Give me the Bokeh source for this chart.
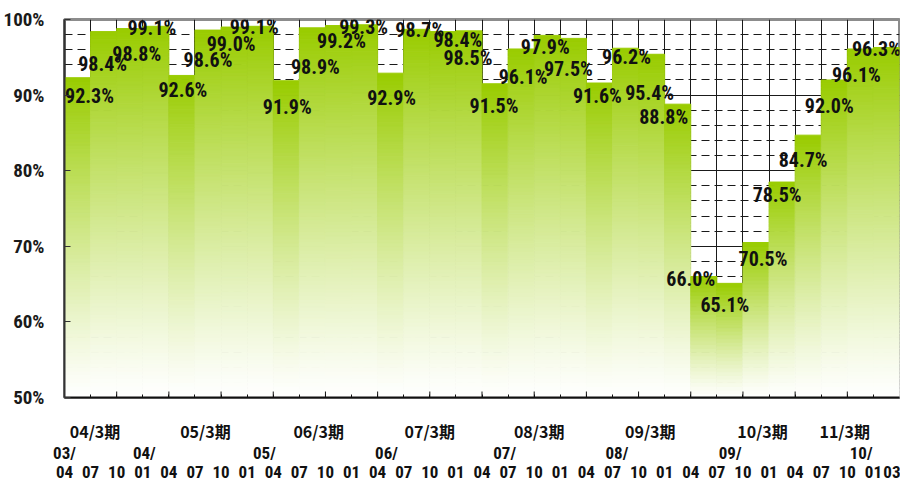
import numpy as np
from bokeh.plotting import figure
from bokeh.models import ColumnDataSource, FixedTicker, LinearAxis, CustomJSTickFormatter, Range1d
from bokeh.core.properties import value
from bokeh.embed import file_html
from bokeh.resources import INLINE

# ---------------- data ----------------
quarters = ["04", "07", "10", "01"] * 8
rates = [92.3, 98.4, 98.8, 99.1,
         92.6, 98.6, 99.0, 99.1,
         91.9, 98.9, 99.2, 99.3,
         92.9, 98.7, 98.4, 98.5,
         91.5, 96.1, 97.9, 97.5,
         91.6, 96.2, 95.4, 88.8,
         66.0, 65.1, 70.5, 78.5,
         84.7, 92.0, 96.1, 96.3]
month_labels = quarters + ["03"]
year_labels = ["03/", "04/", "05/", "06/", "07/", "08/", "09/", "10/"]
fiscal_labels = ["04/3期", "05/3期", "06/3期", "07/3期", "08/3期", "09/3期", "10/3期", "11/3期"]
y_tick_values = [50, 60, 70, 80, 90, 100]

# label placement (style: positions along the category axis / pixel nudges)
year_label_pos = [0.0, 3.06, 7.66, 12.34, 16.87, 21.17, 25.51, 30.53]
fiscal_label_pos = [1.17, 5.4, 9.74, 14.0, 18.19, 22.45, 26.75, 29.9]
label_dx = [12, -1, 7, -4, 1, 0, -3, -6, 1, 3, 3, -1, 1, 3, 15, -1,
            -1, 2, -2, -5, -2, 1, -2, -14, -13, -5, 7, -5, -5, -5, -4, -10]
label_dy = [18, 32, 25, 2, 15, 30, 17, 1, 26, 39, 15, 2, 25, 1, 8, 27,
            22, 28, 12, 31, 13, 9, 39, 13, 2, 22, 16, 13, 25, 26, 26, 2]

NARROW = "'Roboto Condensed', 'Liberation Sans Narrow', Roboto, sans-serif"
JP = "'Noto Sans CJK JP', sans-serif"
TOP_RGB = (153, 204, 0)
BASE = 50.0
FRAME_H = 378  # px

n_bars = len(rates)

p = figure(width=900, height=484, output_backend="svg", toolbar_location=None,
           x_range=Range1d(0, n_bars), y_range=Range1d(BASE, 100),
           min_border_left=53, min_border_right=1, min_border_top=19, min_border_bottom=87,
           background_fill_color="white", border_fill_color="white")
p.outline_line_color = "#8c8c8c"
p.outline_line_width = 3

# ---------------- gradient bars (stacked thin strips) ----------------
L, R, B, T, C = [], [], [], [], []
step = 0.5
for i, v in enumerate(rates):
    n = max(1, int(np.ceil((v - BASE) / step)))
    edges = np.linspace(BASE, v, n + 1)
    for k in range(n):
        mid = 0.5 * (edges[k] + edges[k + 1])
        f = (mid - BASE) / (v - BASE)
        f = f ** 1.15
        rgb = [int(round(255 + (c - 255) * f)) for c in TOP_RGB]
        L.append(i); R.append(i + 1); B.append(edges[k]); T.append(edges[k + 1])
        C.append("#%02x%02x%02x" % tuple(rgb))
strips = ColumnDataSource(dict(left=L, right=R, bottom=B, top=T, color=C))
p.quad(left="left", right="right", bottom="bottom", top="top", source=strips,
       fill_color="color", line_color="color", line_width=1)

# long inner tick marks at every second boundary (6 px tall)
units_per_px = (100 - BASE) / FRAME_H
long_ticks = list(range(2, n_bars, 2))
p.segment(x0=long_ticks, y0=[BASE] * len(long_ticks), x1=long_ticks,
          y1=[BASE + 6 * units_per_px] * len(long_ticks), line_color="#111111", line_width=1)

# ---------------- value labels ----------------
lab = ColumnDataSource(dict(
    x=[i + 0.5 for i in range(n_bars)], y=rates,
    text=["%.1f%%" % v for v in rates], dx=label_dx, dy=label_dy))
p.text(x="x", y="y", text="text", source=lab, x_offset="dx", y_offset="dy",
       text_align="center", text_baseline="middle",
       text_font=value(NARROW), text_font_style="bold", text_font_size="20px",
       text_color="#111111")

# ---------------- grids ----------------
p.xgrid.ticker = FixedTicker(ticks=list(range(1, n_bars)))
p.xgrid.grid_line_color = "#1a1a1a"
p.xgrid.grid_line_width = 1
yt = FixedTicker(ticks=y_tick_values,
                 minor_ticks=[v for v in range(52, 100, 2) if v % 10 != 0])
p.ygrid.ticker = yt
p.ygrid.grid_line_color = "#1a1a1a"
p.ygrid.grid_line_width = 1
p.ygrid.minor_grid_line_color = "#1a1a1a"
p.ygrid.minor_grid_line_dash = "8 5"
p.ygrid.minor_grid_line_width = 1

# ---------------- y axis ----------------
ya = p.yaxis[0]
ya.ticker = yt
ya.formatter = CustomJSTickFormatter(code="return Math.round(tick) + '%';")
ya.major_tick_in = 6
ya.major_tick_out = 0
ya.minor_tick_line_color = None
ya.axis_line_color = "#333333"
ya.axis_line_width = 2
ya.major_tick_line_color = "#333333"
ya.major_label_standoff = 16
ya.major_label_text_font = NARROW
ya.major_label_text_font_style = "bold"
ya.major_label_text_font_size = "19px"
ya.major_label_text_color = "#1a1a1a"

# ---------------- x axes ----------------
# main axis: axis line, short inner ticks at every boundary, fiscal-year labels
xa = p.xaxis[0]
xa.ticker = FixedTicker(ticks=fiscal_label_pos, minor_ticks=list(range(1, n_bars)))
xa.formatter = CustomJSTickFormatter(args=dict(labels=fiscal_labels), code="return labels[index];")
xa.major_tick_line_color = None
xa.major_tick_in = 0
xa.major_tick_out = 0
xa.minor_tick_in = 3
xa.minor_tick_out = 0
xa.minor_tick_line_color = "#111111"
xa.axis_line_color = "#111111"
xa.axis_line_width = 2
xa.major_label_standoff = 21
xa.major_label_text_font = JP
xa.major_label_text_font_style = "bold"
xa.major_label_text_font_size = "16px"
xa.major_label_text_color = "#111111"


def label_axis(positions, labels, font, size, standoff):
    ax = LinearAxis(ticker=FixedTicker(ticks=positions),
                    formatter=CustomJSTickFormatter(args=dict(labels=labels),
                                                    code="return labels[index];"))
    ax.axis_line_color = None
    ax.major_tick_line_color = None
    ax.minor_tick_line_color = None
    ax.major_tick_in = 0
    ax.major_tick_out = 0
    ax.major_label_standoff = standoff
    ax.major_label_text_font = font
    ax.major_label_text_font_style = "bold"
    ax.major_label_text_font_size = size
    ax.major_label_text_color = "#111111"
    p.add_layout(ax, "below")
    return ax


label_axis(year_label_pos, year_labels, NARROW, "17px", -3)
month_pos = list(range(0, n_bars)) + [n_bars - 0.25]
label_axis(month_pos, month_labels, NARROW, "17px", 0)

open("out.html", "w").write(file_html(p, INLINE))
